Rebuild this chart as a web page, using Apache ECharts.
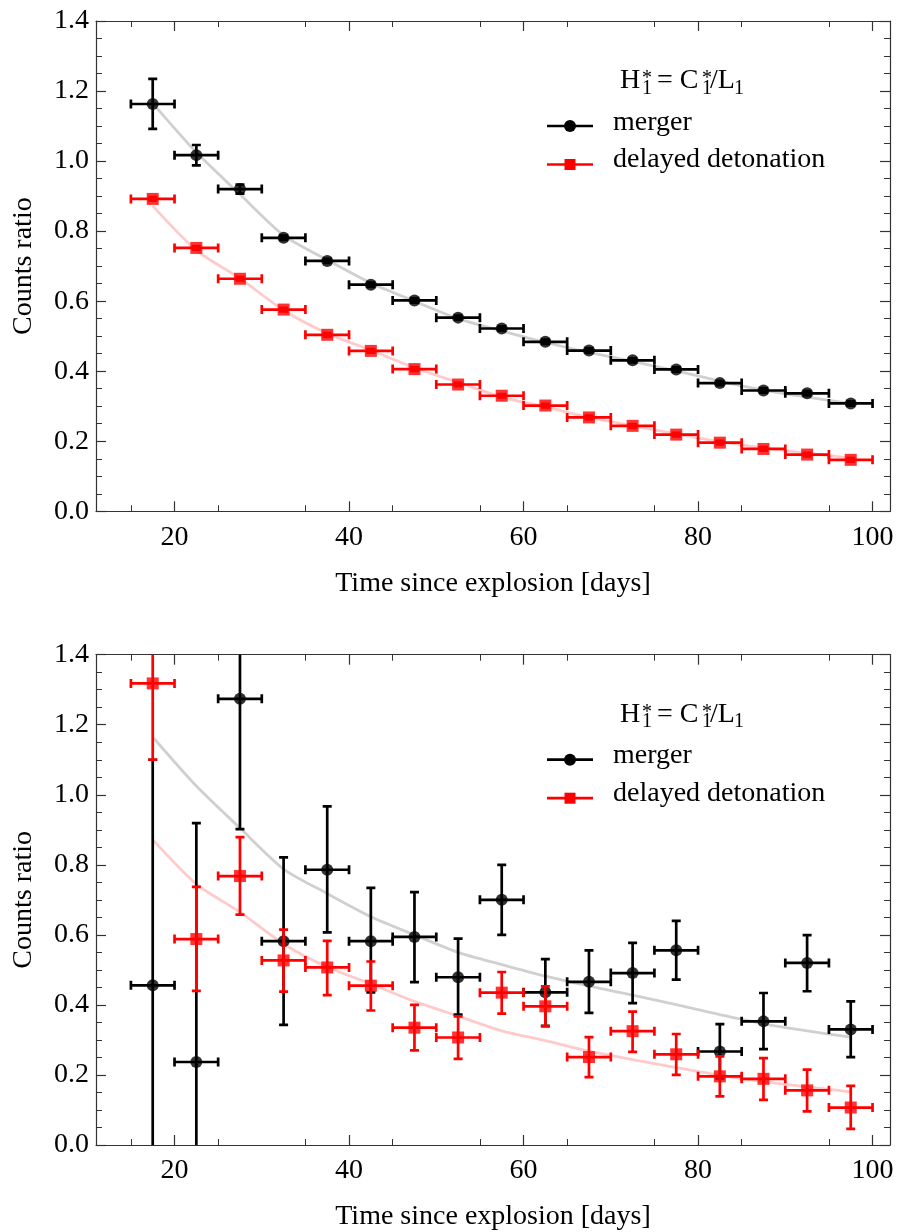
<!DOCTYPE html>
<html><head><meta charset="utf-8">
<script src="https://cdn.jsdelivr.net/npm/echarts@6/dist/echarts.min.js"></script>
<style>html,body{margin:0;padding:0;background:#fff}#c{width:898px;height:1232px}</style>
</head><body><div id="c"></div><script>
// ---- data ----
const days = [17.5,22.5,27.5,32.5,37.5,42.5,47.5,52.5,57.5,62.5,67.5,72.5,77.5,82.5,87.5,92.5,97.5];
const binHalfWidth = 2.5;
const xMajorTicks = [20,40,60,80,100];
const xMinorTicks = [15,25,35,45,55,65,75,85,95];

// model curves
const mergerModel = [1.165,1.025,0.905,0.788,0.718,0.652,0.600,0.550,0.515,0.482,0.454,0.428,0.401,0.372,0.346,0.326,0.308];
const ddtModel    = [0.872,0.745,0.665,0.574,0.508,0.460,0.410,0.368,0.326,0.298,0.268,0.244,0.221,0.199,0.181,0.166,0.152];

// top panel (noise-free)
const topMerger   = [1.163,1.017,0.920,0.781,0.715,0.647,0.602,0.553,0.522,0.484,0.459,0.431,0.405,0.366,0.345,0.337,0.308];
const topMergerLo = [1.092,0.988,0.907,0.775,0.709,0.641,0.596,0.547,0.516,0.478,0.453,0.425,0.399,0.360,0.339,0.331,0.302];
const topMergerHi = [1.235,1.046,0.933,0.787,0.721,0.653,0.608,0.559,0.528,0.490,0.465,0.437,0.411,0.372,0.351,0.343,0.314];
const topDdt      = [0.892,0.752,0.664,0.576,0.504,0.458,0.406,0.362,0.330,0.302,0.268,0.244,0.219,0.196,0.178,0.162,0.147];
const topDdtLo    = [0.887,0.747,0.659,0.571,0.499,0.453,0.401,0.357,0.325,0.297,0.263,0.239,0.214,0.191,0.173,0.157,0.142];
const topDdtHi    = [0.897,0.757,0.669,0.581,0.509,0.463,0.411,0.367,0.335,0.307,0.273,0.249,0.224,0.201,0.183,0.167,0.152];

// bottom panel (with noise)
const botMerger   = [0.456,0.237,1.274,0.582,0.786,0.582,0.594,0.479,0.700,0.436,0.466,0.491,0.556,0.267,0.353,0.520,0.330];
const botMergerLo = [-0.20,-0.445,0.902,0.343,0.607,0.436,0.465,0.372,0.600,0.340,0.377,0.405,0.472,0.190,0.274,0.439,0.251];
const botMergerHi = [1.10,0.919,1.645,0.821,0.967,0.734,0.722,0.589,0.800,0.531,0.556,0.577,0.640,0.345,0.434,0.599,0.410];
const botDdt      = [1.318,0.588,0.768,0.527,0.507,0.455,0.335,0.307,0.435,0.396,0.251,0.325,0.259,0.196,0.189,0.156,0.107];
const botDdtLo    = [1.100,0.440,0.658,0.438,0.428,0.384,0.270,0.246,0.375,0.339,0.194,0.266,0.200,0.139,0.129,0.096,0.046];
const botDdtHi    = [1.540,0.737,0.879,0.615,0.583,0.524,0.400,0.367,0.494,0.453,0.308,0.381,0.317,0.253,0.248,0.215,0.169];

// ---- chart ----
const FONT = 'Liberation Serif';
const AX = '#333';
const chart = echarts.init(document.getElementById('c'), null, {renderer:'canvas'});

const grids = [
  {left:96, right:8, top:21, height:490.3},
  {left:96, right:8, top:654.7, height:490.6}
];

function xAxes(g){
  const base = {type:'value', gridIndex:g, min:11, max:102, splitLine:{show:false}};
  return [
    Object.assign({}, base, {position:'bottom',
      axisLine:{show:true, onZero:false, lineStyle:{color:AX, width:1.2}},
      axisTick:{show:true, inside:true, length:10, customValues:xMajorTicks, lineStyle:{color:AX, width:1.2}},
      axisLabel:{show:true, customValues:xMajorTicks, margin:12, fontSize:28, fontFamily:FONT, color:'#000'},
      name:'Time since explosion [days]', nameLocation:'middle', nameGap:58,
      nameTextStyle:{fontSize:28, fontFamily:FONT, color:'#000'}}),
    Object.assign({}, base, {position:'bottom',
      axisLine:{show:false, onZero:false},
      axisTick:{show:true, inside:true, length:6, customValues:xMinorTicks, lineStyle:{color:AX, width:1}},
      axisLabel:{show:false}}),
    Object.assign({}, base, {position:'top',
      axisLine:{show:true, onZero:false, lineStyle:{color:AX, width:1.2}},
      axisTick:{show:true, inside:true, length:10, customValues:xMajorTicks, lineStyle:{color:AX, width:1.2}},
      axisLabel:{show:false}}),
    Object.assign({}, base, {position:'top',
      axisLine:{show:false, onZero:false},
      axisTick:{show:true, inside:true, length:6, customValues:xMinorTicks, lineStyle:{color:AX, width:1}},
      axisLabel:{show:false}})
  ];
}
function yAxes(g){
  const base = {type:'value', gridIndex:g, min:0, max:1.4, interval:0.2, splitLine:{show:false},
    axisLine:{show:true, onZero:false, lineStyle:{color:AX, width:1.2}},
    axisTick:{show:true, inside:true, length:10, lineStyle:{color:AX, width:1.2}},
    minorTick:{show:true, splitNumber:4, length:6, lineStyle:{color:AX, width:1}}};
  return [
    Object.assign({}, base, {position:'left',
      axisLabel:{show:true, margin:7, fontSize:28, fontFamily:FONT, color:'#000', formatter:v=>v.toFixed(1)},
      name:'Counts ratio', nameLocation:'middle', nameGap:58, nameRotate:90,
      nameTextStyle:{fontSize:28, fontFamily:FONT, color:'#000'}}),
    Object.assign({}, base, {position:'right', axisLabel:{show:false}})
  ];
}

function errRender(color){
  return function(params, api){
    const x=api.value(0), y=api.value(1), lo=api.value(2), hi=api.value(3), hw=api.value(4);
    const l=api.coord([x-hw,y]), r=api.coord([x+hw,y]);
    const pLo=api.coord([x,lo]), pHi=api.coord([x,hi]);
    const cap=4.5;
    const st={stroke:color, lineWidth:2.7, fill:null};
    const ln=(x1,y1,x2,y2)=>({type:'line', shape:{x1,y1,x2,y2}, style:st});
    const ch=[
      ln(l[0],l[1],r[0],r[1]),
      ln(l[0],l[1]-cap,l[0],l[1]+cap),
      ln(r[0],r[1]-cap,r[0],r[1]+cap),
      ln(pLo[0],pLo[1],pHi[0],pHi[1]),
      ln(pLo[0]-cap,pLo[1],pLo[0]+cap,pLo[1]),
      ln(pHi[0]-cap,pHi[1],pHi[0]+cap,pHi[1])
    ];
    return {type:'group', children:ch};
  };
}
function errData(v,lo,hi){ return days.map((d,i)=>[d,v[i],lo[i],hi[i],binHalfWidth]); }
function pts(v){ return days.map((d,i)=>[d,v[i]]); }

function panelSeries(g, m, mLo, mHi, dd, dLo, dHi){
  const xi = g*4, yi = g*2;
  return [
    {type:'line', xAxisIndex:xi, yAxisIndex:yi, data:pts(mergerModel), showSymbol:false, smooth:0.25,
     lineStyle:{color:'#d0d0d0', width:2.8}, z:1, silent:true},
    {type:'line', xAxisIndex:xi, yAxisIndex:yi, data:pts(ddtModel), showSymbol:false, smooth:0.25,
     lineStyle:{color:'#ffcaca', width:2.8}, z:1, silent:true},
    {type:'custom', name:'merger', xAxisIndex:xi, yAxisIndex:yi, clip:true, renderItem:errRender('#000'),
     data:errData(m,mLo,mHi), z:2, silent:true},
    {type:'scatter', name:'merger', xAxisIndex:xi, yAxisIndex:yi, data:pts(m), symbol:'circle', symbolSize:12,
     itemStyle:{color:'#000'}, z:3, silent:true},
    {type:'custom', name:'delayed detonation', xAxisIndex:xi, yAxisIndex:yi, clip:true, renderItem:errRender('#ff0000'),
     data:errData(dd,dLo,dHi), z:4, silent:true},
    {type:'scatter', name:'delayed detonation', xAxisIndex:xi, yAxisIndex:yi, data:pts(dd), symbol:'rect', symbolSize:12,
     itemStyle:{color:'#ff0000'}, z:5, silent:true}
  ];
}

function legendGraphic(dy){
  const tf = {fontFamily:FONT, fill:'#000'};
  const t = (x,y,text,size)=>({type:'text', x, y, style:Object.assign({text, fontSize:size, textAlign:'left', textVerticalAlign:'bottom'}, tf)});
  return [
    t(620, 94.5+dy, 'H', 28),
    t(642, 89+dy, '*', 20),
    t(642, 98.5+dy, '1', 20),
    t(657, 94.5+dy, '= C', 28),
    t(702, 89+dy, '*', 20),
    t(702, 98.5+dy, '1', 20),
    t(710, 94.5+dy, '/L', 28),
    t(734, 98.5+dy, '1', 20),
    {type:'line', shape:{x1:547, y1:126+dy, x2:593, y2:126+dy}, style:{stroke:'#000', lineWidth:2.7}},
    {type:'circle', shape:{cx:570, cy:126+dy, r:6}, style:{fill:'#000'}},
    t(613, 136.2+dy, 'merger', 28),
    {type:'line', shape:{x1:547, y1:164.5+dy, x2:593, y2:164.5+dy}, style:{stroke:'#ff0000', lineWidth:2.7}},
    {type:'rect', shape:{x:564.5, y:159+dy, width:11, height:11}, style:{fill:'#ff0000'}},
    t(613, 173.8+dy, 'delayed detonation', 28)
  ];
}

const option = {
  animation:false,
  backgroundColor:'#fff',
  grid: grids,
  xAxis: xAxes(0).concat(xAxes(1)),
  yAxis: yAxes(0).concat(yAxes(1)),
  series: panelSeries(0, topMerger, topMergerLo, topMergerHi, topDdt, topDdtLo, topDdtHi)
    .concat(panelSeries(1, botMerger, botMergerLo, botMergerHi, botDdt, botDdtLo, botDdtHi)),
  graphic: legendGraphic(0).concat(legendGraphic(633.7))
};
chart.setOption(option);
</script></body></html>
